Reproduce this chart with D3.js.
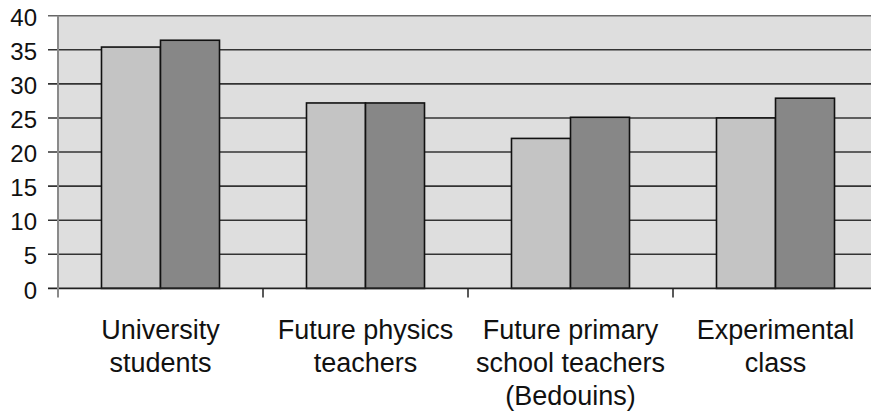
<!DOCTYPE html>
<html>
<head>
<meta charset="utf-8">
<script src="https://cdn.jsdelivr.net/npm/d3@7"></script>
<style>
  body { margin: 0; background: #fff; }
  text { font-family: "Liberation Sans", Arial, sans-serif; fill: #111; }
</style>
</head>
<body>
<div id="chart"></div>
<script>
// data
var categories = ["University students", "Future physics teachers", "Future primary school teachers (Bedouins)", "Experimental class"];
var labelLines = [["University", "students"], ["Future physics", "teachers"], ["Future primary", "school teachers", "(Bedouins)"], ["Experimental", "class"]];
var seriesA = [35.4, 27.2, 22.0, 25.0];
var seriesB = [36.4, 27.2, 25.1, 27.9];
var yTicks = [0, 5, 10, 15, 20, 25, 30, 35, 40];

var W = 871, H = 416;
var plotLeft = 58, plotRight = 878, plotTop = 15.7, plotBottom = 288.4;

var svg = d3.select("#chart").append("svg")
    .attr("width", W)
    .attr("height", H);

var x = d3.scaleBand()
    .domain(categories)
    .range([plotLeft, plotRight])
    .padding(0);

var xs = d3.scaleBand()
    .domain(["a", "b"])
    .range([0, x.bandwidth()])
    .paddingInner(0)
    .paddingOuter(0.737);

var y = d3.scaleLinear()
    .domain([0, 40])
    .range([plotBottom, plotTop]);

// plot background
svg.append("rect")
    .attr("x", plotLeft)
    .attr("y", y(40))
    .attr("width", plotRight - plotLeft)
    .attr("height", y(0) - y(40))
    .attr("fill", "#dedede");

// gridlines
svg.append("g")
    .selectAll("line")
    .data(yTicks.filter(function(d) { return d > 0; }))
    .enter()
    .append("line")
    .attr("x1", plotLeft - 10)
    .attr("x2", W)
    .attr("y1", function(d) { return y(d); })
    .attr("y2", function(d) { return y(d); })
    .attr("stroke", function(d) { return d == 40 ? "#666" : "#333"; })
    .attr("stroke-width", 1.6);

// bars
var rows = categories.map(function(c, i) {
    return [{cat: c, key: "a", v: seriesA[i]}, {cat: c, key: "b", v: seriesB[i]}];
});
var color = {a: "#c4c4c4", b: "#878787"};

svg.append("g")
    .selectAll("g")
    .data(rows)
    .enter()
    .append("g")
    .attr("transform", function(d) { return "translate(" + x(d[0].cat) + ",0)"; })
    .selectAll("rect")
    .data(function(d) { return d; })
    .enter()
    .append("rect")
    .attr("x", function(d) { return xs(d.key); })
    .attr("y", function(d) { return y(d.v); })
    .attr("width", xs.bandwidth())
    .attr("height", function(d) { return y(0) - y(d.v); })
    .attr("fill", function(d) { return color[d.key]; })
    .attr("stroke", "#111")
    .attr("stroke-width", 1.6);

// x axis line and category ticks
svg.append("line")
    .attr("x1", plotLeft - 10).attr("x2", W)
    .attr("y1", y(0)).attr("y2", y(0))
    .attr("stroke", "#222").attr("stroke-width", 1.8);

svg.append("g")
    .selectAll("line")
    .data(categories.slice(1))
    .enter()
    .append("line")
    .attr("x1", function(d) { return x(d); })
    .attr("x2", function(d) { return x(d); })
    .attr("y1", y(0))
    .attr("y2", y(0) + 9)
    .attr("stroke", "#222")
    .attr("stroke-width", 1.5);

// y axis line
svg.append("line")
    .attr("x1", plotLeft).attr("x2", plotLeft)
    .attr("y1", y(40)).attr("y2", y(0) + 9)
    .attr("stroke", "#8a8a8a").attr("stroke-width", 2);

// y tick labels
svg.append("g")
    .selectAll("text")
    .data(yTicks)
    .enter()
    .append("text")
    .attr("x", 37)
    .attr("y", function(d) { return y(d) + 1.5; })
    .attr("dy", "0.36em")
    .attr("text-anchor", "end")
    .style("font-size", "24px")
    .text(function(d) { return d; });

// category labels
var lab = svg.append("g")
    .selectAll("text")
    .data(categories)
    .enter()
    .append("text")
    .attr("text-anchor", "middle")
    .style("font-size", "27px");

lab.selectAll("tspan")
    .data(function(d, i) {
        return labelLines[i].map(function(t, j) { return {t: t, j: j, c: d}; });
    })
    .enter()
    .append("tspan")
    .attr("x", function(d) { return x(d.c) + x.bandwidth() / 2; })
    .attr("y", function(d) { return 339 + d.j * 33; })
    .text(function(d) { return d.t; });
</script>
</body>
</html>
